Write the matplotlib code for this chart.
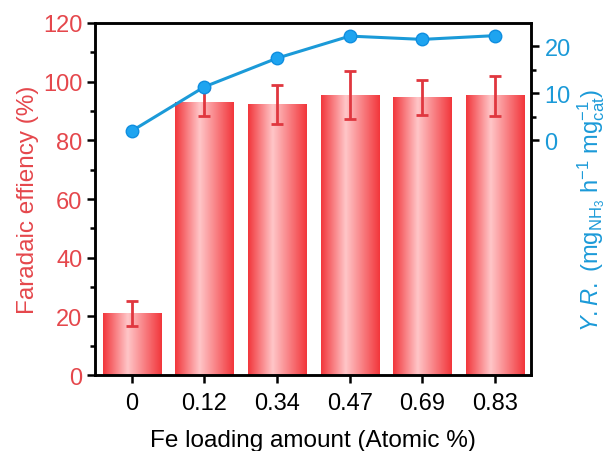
import matplotlib.pyplot as plt
import numpy as np
from matplotlib.colors import LinearSegmentedColormap

plt.rcParams['font.family'] = ['Liberation Sans', 'DejaVu Sans']
plt.rcParams['mathtext.fontset'] = 'custom'
plt.rcParams['mathtext.rm'] = 'Liberation Sans'
plt.rcParams['mathtext.it'] = 'Liberation Sans:italic'

loading = ['0', '0.12', '0.34', '0.47', '0.69', '0.83']
fe = [21.0, 92.9, 92.2, 95.4, 94.5, 95.1]
fe_err = [4.2, 4.5, 6.5, 8.1, 6.0, 6.8]
yr = [2.0, 11.4, 17.5, 22.2, 21.5, 22.3]
yr_err = [0.6, 0.6, 0.6, 0.6, 0.6, 0.6]

RED = '#e5474c'
BLUE = '#1b9ad8'

fig = plt.figure(figsize=(6.08, 4.52), dpi=100)
ax = fig.add_axes([0.157, 0.168, 0.717, 0.779])
x = np.arange(len(loading))

# bars with a horizontal red -> pink -> red shading
cmap = LinearSegmentedColormap.from_list(
    'bar', [(0, '#f2363b'), (0.42, '#ffc6c8'), (1, '#f2363b')])
grad = np.linspace(0, 1, 256).reshape(1, -1)
w = 0.8
bars = ax.bar(x, fe, width=w, color='none', edgecolor='none', zorder=2)
for b in bars:
    x0, y0 = b.get_x(), b.get_y()
    ax.imshow(grad, cmap=cmap, aspect='auto', zorder=2,
              extent=[x0, x0 + b.get_width(), y0, y0 + b.get_height()])
ax.errorbar(x, fe, yerr=fe_err, fmt='none', ecolor='#e0373f',
            elinewidth=2, capsize=4, capthick=2, zorder=3)

ax.set_xlim(-0.5, 5.5)
ax.set_ylim(0, 120)
ax.set_xticks(x)
ax.set_xticklabels(loading)
ax.set_yticks(np.arange(0, 121, 20))
ax.set_yticks(np.arange(10, 120, 20), minor=True)
ax.set_xlabel('Fe loading amount (Atomic %)', fontsize=17.5, labelpad=11)
ax.set_ylabel('Faradaic effiency (%)', fontsize=17.5, color=RED, labelpad=3)
ax.tick_params(axis='x', labelsize=17, width=1.8, length=6, direction='out', pad=6)
ax.tick_params(axis='y', which='major', labelsize=17, labelcolor=RED,
               width=1.8, length=6, direction='out')
ax.tick_params(axis='y', which='minor', width=1.8, length=3.5, direction='out')

# yield rate on the right axis
ax2 = ax.twinx()
ax2.errorbar(x, yr, yerr=yr_err, fmt='-o', color=BLUE, lw=2.2, ms=9,
             mfc='#1ea4f0', mec='#0f8ee0', ecolor='#d8f0ff',
             elinewidth=1.2, capsize=2, zorder=5, clip_on=False)
ax2.set_ylim(-50, 25)
ax2.set_yticks([0, 10, 20])
ax2.set_yticks([5, 15], minor=True)
ax2.tick_params(axis='y', which='major', labelsize=17, labelcolor=BLUE,
                width=1.8, length=6, direction='out')
ax2.tick_params(axis='y', which='minor', width=1.8, length=3.5, direction='out')
ax2.set_ylabel(r'$\it{Y.R.}$ (mg$_{\mathrm{NH_3}}$ h$^{-1}$ mg$_{\mathrm{cat}}^{-1}$)',
               fontsize=17, color=BLUE)
ax2.yaxis.set_label_coords(1.10, 0.47)

for a in (ax, ax2):
    for s in a.spines.values():
        s.set_linewidth(1.8)

fig.savefig('out.png', dpi=100)
